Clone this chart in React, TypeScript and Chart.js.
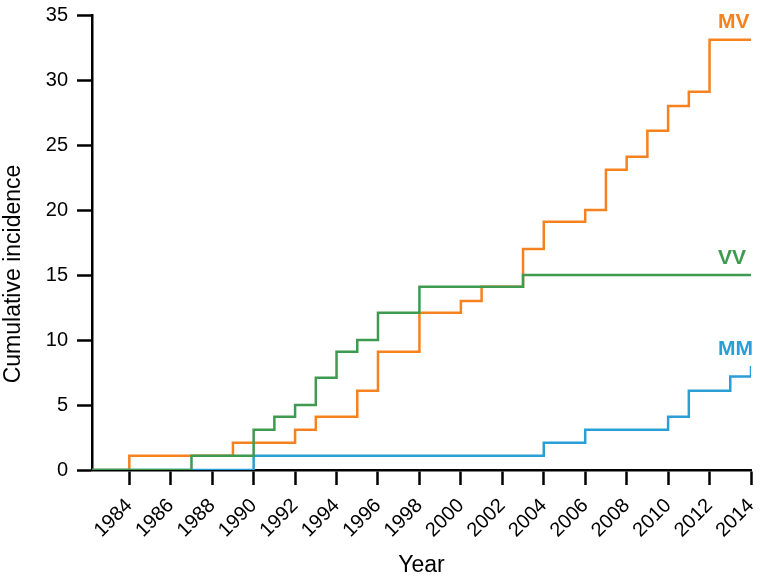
import React, { useEffect, useRef } from "react";
import { Chart, registerables, ChartConfiguration, Plugin } from "chart.js";

Chart.register(...registerables);

// step points: [year the value changes, new cumulative incidence]
const mvYears = [1982.2, 1984, 1989, 1992, 1993, 1995, 1996, 1998, 2000, 2001, 2003, 2004, 2006, 2007, 2008, 2009, 2010, 2011, 2012, 2014];
const mvValues = [0, 1.1, 2.1, 3.1, 4.1, 6.1, 9.1, 12.1, 13.0, 14.1, 17.0, 19.1, 20.0, 23.1, 24.1, 26.1, 28.0, 29.1, 33.1, 33.1];

const vvYears = [1982.2, 1987, 1990, 1991, 1992, 1993, 1994, 1995, 1996, 1998, 2003, 2014];
const vvValues = [0, 1.1, 3.1, 4.1, 5.0, 7.1, 9.1, 10.0, 12.1, 14.1, 15.0, 15.0];

const mmYears = [1982.2, 1990, 2004, 2006, 2010, 2011, 2013, 2014];
const mmValues = [0, 1.1, 2.1, 3.1, 4.1, 6.1, 7.2, 8.0];

const yTicks = [0, 5, 10, 15, 20, 25, 30, 35];

const FONT = "'Liberation Sans', Arial, Helvetica, sans-serif";
const ORANGE = "#f5821f";
const GREEN = "#3e9a4f";
const BLUE = "#2a9fd6";

const toPoints = (xs: number[], ys: number[]) => xs.map((x, i) => ({ x, y: ys[i] }));

// series names next to the line ends, plus the y title (sits lower than centre in the original)
const labelPlugin: Plugin<"line"> = {
  id: "seriesLabels",
  afterDatasetsDraw(chart) {
    const { ctx, chartArea, scales } = chart;
    ctx.save();
    ctx.font = `bold 21px ${FONT}`;
    ctx.textAlign = "left";
    ctx.textBaseline = "middle";
    chart.data.datasets.forEach((ds: any) => {
      const last = ds.data[ds.data.length - 1];
      ctx.fillStyle = ds.borderColor;
      ctx.fillText(ds.label, chartArea.right - 33, scales.y.getPixelForValue(last.y) - 17);
    });
    ctx.fillStyle = "#000";
    ctx.font = `23px ${FONT}`;
    ctx.textAlign = "center";
    ctx.translate(14, 274);
    ctx.rotate(-Math.PI / 2);
    ctx.fillText("Cumulative incidence", 0, 0);
    ctx.restore();
  },
};

export default function App() {
  const canvasRef = useRef<HTMLCanvasElement>(null);

  useEffect(() => {
    const ctx = canvasRef.current?.getContext("2d");
    if (!ctx) return;

    const line = (label: string, color: string, xs: number[], ys: number[]) => ({
      label,
      data: toPoints(xs, ys),
      borderColor: color,
      borderWidth: 2.5,
      stepped: "before" as const,
      pointRadius: 0,
      fill: false,
    });

    const config: ChartConfiguration<"line"> = {
      type: "line",
      data: {
        // first dataset is painted on top
        datasets: [
          line("VV", GREEN, vvYears, vvValues),
          line("MM", BLUE, mmYears, mmValues),
          line("MV", ORANGE, mvYears, mvValues),
        ],
      },
      options: {
        animation: false,
        responsive: true,
        maintainAspectRatio: false,
        layout: { padding: { top: 15, right: 9, left: 0, bottom: 0 } },
        plugins: { legend: { display: false }, tooltip: { enabled: false } },
        scales: {
          x: {
            type: "linear",
            min: 1982.2,
            max: 2014,
            afterFit: (s: any) => {
              s.height = 109;
              s.paddingLeft = 0;
              s.paddingRight = 0;
            },
            ticks: {
              stepSize: 2,
              includeBounds: false,
              autoSkip: false,
              minRotation: 45,
              maxRotation: 45,
              padding: 9,
              color: "#000",
              font: { family: FONT, size: 20 },
              callback: (v) => String(v),
            },
            grid: { drawOnChartArea: false, drawTicks: true, tickLength: 15, tickWidth: 2.5, tickColor: "#000" },
            border: { display: true, color: "#000", width: 2.5 },
            title: { display: true, text: "Year", color: "#000", font: { family: FONT, size: 23 }, padding: 0 },
          },
          y: {
            min: 0,
            max: 35,
            afterFit: (s: any) => {
              s.width = 92;
              s.paddingTop = 0;
              s.paddingBottom = 0;
            },
            afterBuildTicks: (s) => {
              s.ticks = yTicks.map((value) => ({ value }));
            },
            ticks: {
              padding: 9,
              color: "#000",
              font: { family: FONT, size: 20 },
            },
            grid: { drawOnChartArea: false, drawTicks: true, tickLength: 15, tickWidth: 2.5, tickColor: "#000" },
            border: { display: true, color: "#000", width: 2.5 },
          },
        },
      },
      plugins: [labelPlugin],
    };

    const chart = new Chart(ctx, config);
    return () => chart.destroy();
  }, []);

  return (
    <div style={{ position: "fixed", left: 0, top: 0, width: 760, height: 579, background: "#fff" }}>
      <canvas ref={canvasRef} />
    </div>
  );
}
